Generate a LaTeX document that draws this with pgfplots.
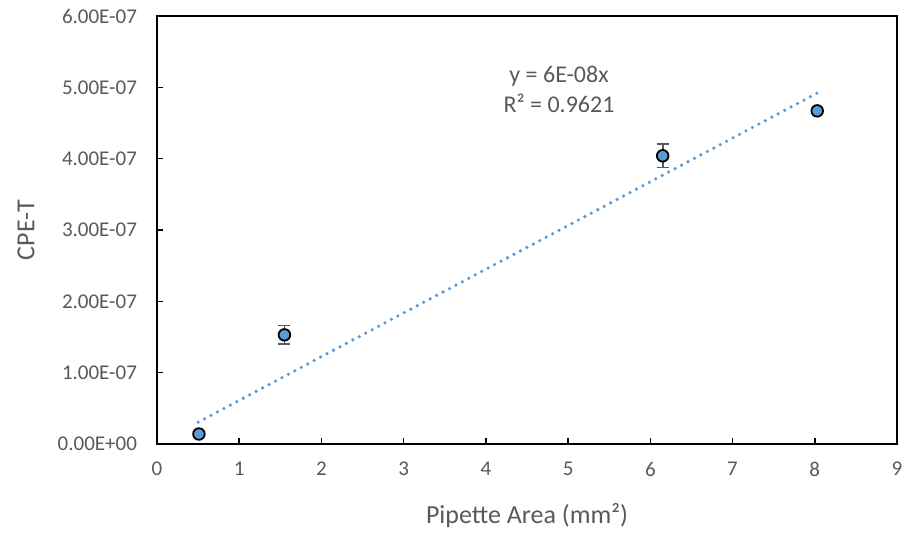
\documentclass[border=0pt]{standalone}
\usepackage{pgfplots}
\pgfplotsset{compat=1.18}
\usepackage{fontspec}
\setmainfont{Carlito}
\definecolor{xlblue}{HTML}{5B9BD5}
\definecolor{xlgray}{HTML}{595959}
\begin{document}
\begin{tikzpicture}
\begin{axis}[
  scale only axis,
  width=370pt, height=214pt,
  xmin=0, xmax=9, ymin=0, ymax=6e-7,
  xtick={0,1,...,9},
  ytick={0,1e-7,2e-7,3e-7,4e-7,5e-7,6e-7},
  yticklabels={0.00E+00,1.00E-07,2.00E-07,3.00E-07,4.00E-07,5.00E-07,6.00E-07},
  scaled y ticks=false,
  /pgf/number format/assume math mode=true,
  tick align=inside,
  xtick pos=bottom, ytick pos=left,
  major tick length=3pt,
  tick style={black, line width=0.8pt},
  axis line style={black, line width=1pt},
  ticklabel style={font=\fontsize{10.5}{12}\selectfont, text=xlgray},
  yticklabel style={xshift=-6.5pt},
  xticklabel style={yshift=-5.5pt},
  xlabel={Pipette Area (mm²)},
  ylabel={CPE-T},
  label style={font=\fontsize{13}{15}\selectfont, text=xlgray},
  xlabel style={at={(axis description cs:0.5,-0.168)}, anchor=center},
  ylabel style={at={(axis description cs:-0.177,0.5)}, anchor=center},
]
% trendline
\addplot[xlblue, line width=1.8pt, line cap=round, dash pattern=on 0pt off 3.65pt]
  coordinates {(0.5,3.05e-8) (8.03,4.92e-7)};
% error bars
\addplot[only marks, mark=none,
  error bars/.cd, y dir=both, y explicit,
  error bar style={xlgray, line width=0.9pt},
  error mark options={xlgray, line width=0.9pt, mark size=3pt, rotate=90}]
  coordinates {
    (1.55,1.53e-7) +- (0,1.3e-8)
    (6.15,4.04e-7) +- (0,1.65e-8)
  };
% data
\addplot[only marks, mark=*, mark size=2.9pt,
  mark options={fill=xlblue, draw=black, line width=0.9pt}]
  coordinates {
    (0.51,1.4e-8)
    (1.55,1.53e-7)
    (6.15,4.04e-7)
    (8.03,4.67e-7)
  };
\node[text=xlgray, font=\fontsize{12}{14}\selectfont] at (axis cs:4.89,5.16e-7) {y = 6E-08x};
\node[text=xlgray, font=\fontsize{12}{14}\selectfont] at (axis cs:4.89,4.78e-7) {R² = 0.9621};
\end{axis}
\pgfresetboundingbox
\path (current axis.south west) ++(-78.5pt,-44.5pt) coordinate (bbA);
\path (current axis.north east) ++(5pt,8pt) coordinate (bbB);
\useasboundingbox (bbA) rectangle (bbB);
\end{tikzpicture}
\end{document}
